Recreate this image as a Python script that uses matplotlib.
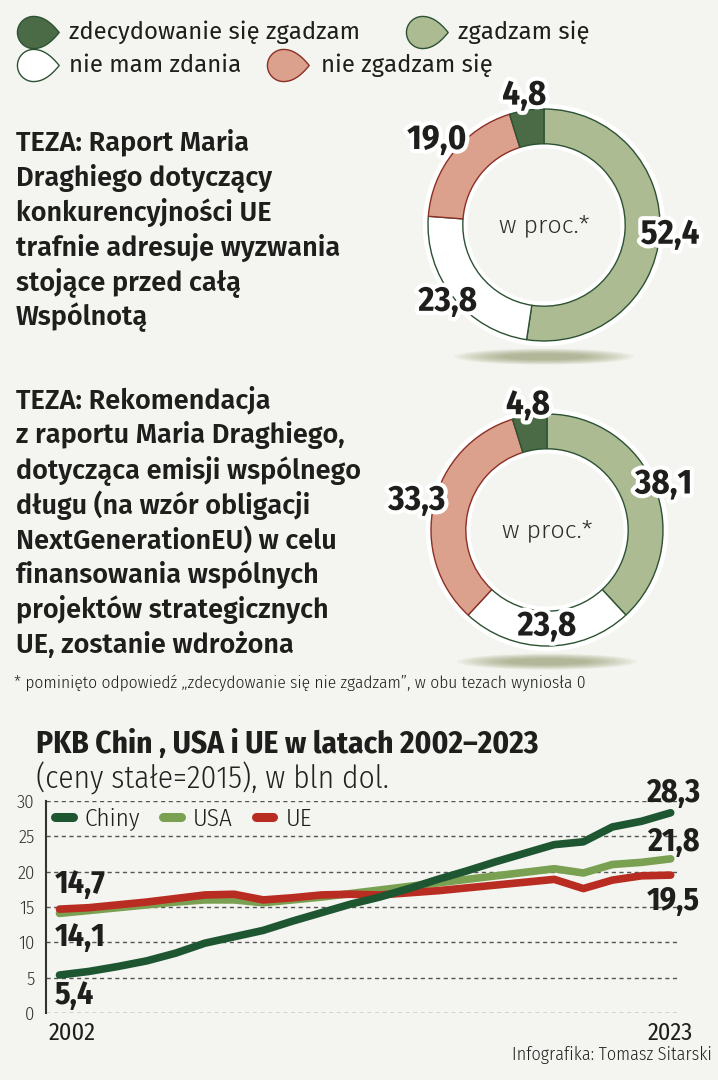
import numpy as np
import matplotlib.pyplot as plt
from matplotlib.path import Path
from matplotlib.patches import Ellipse, Wedge
from matplotlib.lines import Line2D
from matplotlib.transforms import ScaledTranslation
import matplotlib.patheffects as pe
from matplotlib import font_manager as fm

# fonts: take the first family that is installed
names = {f.name for f in fm.fontManager.ttflist}


def pick(*cands):
    for c in cands:
        if c in names:
            return c
    return 'DejaVu Sans'


SANS = pick('Fira Sans', 'Noto Sans', 'Open Sans')
SANS_LIGHT = pick('Fira Sans Light', 'Fira Sans', 'Noto Sans')
COND = pick('Fira Sans Condensed', 'Roboto Condensed', 'Liberation Sans Narrow', 'DejaVu Sans')
COND_LIGHT = pick('Fira Sans Condensed Light', 'Fira Sans Extra Condensed Light',
                  'Roboto Condensed Light', 'Fira Sans Condensed', 'Roboto Condensed', 'DejaVu Sans')
LIGHT = 300

# --- data: survey ---
answers = ['zdecydowanie się zgadzam', 'zgadzam się', 'nie mam zdania', 'nie zgadzam się']
answer_colors = ['#4b6b46', '#adbb93', '#ffffff', '#dba18d']
answer_edges = ['#2c5233', '#2c5233', '#2c5233', '#8c2f26']
teza1 = [4.8, 52.4, 23.8, 19.0]
teza2 = [4.8, 38.1, 23.8, 33.3]
teza1_text = ['TEZA: Raport Maria', 'Draghiego dotyczący', 'konkurencyjności UE',
              'trafnie adresuje wyzwania', 'stojące przed całą', 'Wspólnotą']
teza2_text = ['TEZA: Rekomendacja', 'z raportu Maria Draghiego,', 'dotycząca emisji wspólnego',
              'długu (na wzór obligacji', 'NextGenerationEU) w celu', 'finansowania wspólnych',
              'projektów strategicznych', 'UE, zostanie wdrożona']

# --- data: GDP ---
years = list(range(2002, 2024))
chiny = [5.4, 5.9, 6.6, 7.4, 8.5, 9.9, 10.8, 11.7, 13.0, 14.2, 15.4, 16.4, 17.6, 18.9,
         20.1, 21.4, 22.6, 23.8, 24.2, 26.3, 27.1, 28.3]
usa = [14.1, 14.5, 14.9, 15.3, 15.7, 16.0, 16.0, 15.6, 16.0, 16.4, 16.9, 17.4, 17.9, 18.4,
       18.9, 19.4, 19.9, 20.4, 19.8, 21.0, 21.3, 21.8]
ue = [14.7, 14.9, 15.3, 15.7, 16.2, 16.7, 16.8, 16.0, 16.3, 16.7, 16.8, 16.7, 17.0, 17.3,
      17.7, 18.1, 18.5, 18.9, 17.6, 18.8, 19.4, 19.5]
series_names = ['Chiny', 'USA', 'UE']
series_colors = ['#1f5632', '#7aa052', '#b92c22']

W, H = 718, 1080
BG = '#f4f5f0'
INK = '#1e1e1c'

fig = plt.figure(figsize=(W / 100, H / 100), dpi=100, facecolor=BG)


def fx(x):
    return x / W


def fy(y):
    return 1 - y / H


def comma(v):
    return f'{v:.1f}'.replace('.', ',')


# overlay in pixel coordinates for legend & texts
ov = fig.add_axes([0, 0, 1, 1])
ov.set_xlim(0, W)
ov.set_ylim(H, 0)
ov.axis('off')

# teardrop marker
drop = Path([(1.6, 0), (1.0, 0.75), (0.5, 1.0), (0, 1.0),
             (-0.55, 1.0), (-1.0, 0.55), (-1.0, 0),
             (-1.0, -0.55), (-0.55, -1.0), (0, -1.0),
             (0.5, -1.0), (1.0, -0.75), (1.6, 0), (1.6, 0)],
            [Path.MOVETO] + [Path.CURVE4] * 12 + [Path.CLOSEPOLY])

leg_pos = [(33, 32, 69), (422, 32, 458), (33, 65, 69), (283, 65, 321)]
for (mx, my, tx), name, c, e in zip(leg_pos, answers, answer_colors, answer_edges):
    ov.plot(mx, my, marker=drop, ms=37, mfc=c, mec=e, mew=1.0)
    ov.text(tx, my, name, fontsize=17.2, family=SANS, color=INK, va='center', ha='left')

# thesis texts
for i, line in enumerate(teza1_text):
    ov.text(16, 142 + i * 35.1, line, fontsize=19.5, family=SANS, weight='semibold',
            color=INK, va='center', ha='left')
for i, line in enumerate(teza2_text):
    ov.text(16, 400 + i * 35.0, line, fontsize=19.5, family=SANS, weight='semibold',
            color=INK, va='center', ha='left')

ov.text(14, 683, '* pominięto odpowiedź \u201ezdecydowanie się nie zgadzam\u201d, w obu tezach wyniosła 0',
        fontsize=12.5, family=COND_LIGHT, weight=LIGHT, color=INK, va='center', ha='left')


def donut(cx, cy, values, label_r):
    r = 116
    lim = 1.35
    ax = fig.add_axes([fx(cx - lim * r), fy(cy + lim * r), 2 * lim * r / W, 2 * lim * r / H])
    order = [1, 2, 3, 0]
    vals = [values[i] for i in order]
    wedges, _ = ax.pie(vals, colors=[answer_colors[i] for i in order], startangle=90,
                       counterclock=False, radius=1,
                       wedgeprops=dict(width=0.3, linewidth=1.0))
    for w, i in zip(wedges, order):
        w.set_edgecolor(answer_edges[i])
        w.set_zorder(3)
    ax.set_xlim(-lim, lim)
    ax.set_ylim(-lim, lim)
    ax.set_aspect('equal')
    ax.axis('off')
    # shadow
    for k in range(10):
        ax.add_patch(Ellipse((0, -1.135), 1.55 * (1 - k * 0.06), 0.14 * (1 - k * 0.07),
                             color='#7b8450', alpha=0.07, lw=0, zorder=1))
    # white halo
    ax.add_patch(Wedge((0, 0), 1.045, 0, 360, width=0.385, color='white', lw=0, zorder=2))
    for w, i, lr in zip(wedges, order, label_r):
        mid = np.deg2rad((w.theta1 + w.theta2) / 2)
        ax.text(lr * np.cos(mid), lr * np.sin(mid), comma(values[i]), fontsize=25,
                family=COND, weight='bold', color=INK, ha='center', va='center', zorder=5,
                path_effects=[pe.withStroke(linewidth=6, foreground='white')])
    ax.text(0, 0, 'w proc.*', fontsize=18, family=SANS_LIGHT, weight=LIGHT, color='#2e2e2e',
            ha='center', va='center', zorder=5)


donut(544, 225, teza1, [1.09, 1.06, 1.18, 1.13])
donut(547, 530, teza2, [1.08, 0.83, 1.15, 1.09])

# --- line chart ---
ov.text(36, 745, 'PKB Chin , USA i UE w latach 2002\u20132023', fontsize=22.5, family=COND,
        weight='bold', color=INK, va='center', ha='left')
ov.text(36, 778, '(ceny stałe=2015), w bln dol.', fontsize=22.6, family=COND_LIGHT,
        weight=LIGHT, color='#222222', va='center', ha='left')

ax = fig.add_axes([fx(45.8), fy(1013.3), (680 - 45.8) / W, (1013.3 - 800.7) / H])
ax.set_facecolor('none')
ax.plot(years, usa, color=series_colors[1], lw=5.5, solid_capstyle='round', zorder=3)
ax.plot(years, ue, color=series_colors[2], lw=5.5, solid_capstyle='round', zorder=4)
ax.plot(years, chiny, color=series_colors[0], lw=5.5, solid_capstyle='round', zorder=5)
ax.set_xlim(2001.53, 2023.32)
ax.set_ylim(0, 30)
ax.set_yticks(range(0, 31, 5))
ax.set_axisbelow(True)
ax.grid(axis='y', color='#555555', ls=(0, (3, 2.5)), lw=1)
for s in ['top', 'right', 'bottom']:
    ax.spines[s].set_visible(False)
ax.spines['left'].set_color('#333333')
ax.spines['left'].set_linewidth(1.5)
ax.tick_params(axis='y', length=0, pad=8, labelsize=13.5, labelcolor='#333333')
ax.set_xticks([years[0], years[-1]])
ax.set_xticklabels([str(years[0]), str(years[-1])])
ax.tick_params(axis='x', length=0, pad=6, labelsize=17.5, labelcolor=INK)
for lab in ax.get_yticklabels():
    lab.set_family(COND_LIGHT)
    lab.set_weight(LIGHT)
for lab in ax.get_xticklabels():
    lab.set_family(COND)
xl = ax.get_xticklabels()
xl[0].set_transform(xl[0].get_transform() + ScaledTranslation(0.13, 0, fig.dpi_scale_trans))

handles = [Line2D([], [], color=c, lw=6.5, solid_capstyle='round') for c in series_colors]
leg = ax.legend(handles, series_names, loc='center left',
                bbox_to_anchor=((55 - 45.8) / 634.2, (1013.3 - 819) / 212.6),
                ncol=3, frameon=False, borderpad=0, borderaxespad=0, handlelength=0.7,
                handletextpad=0.5, columnspacing=0.9,
                prop=dict(family=COND_LIGHT, weight=LIGHT, size=18))
for t in leg.get_texts():
    t.set_color(INK)


def end_label(x, y, v, dx, dy, ha):
    ax.annotate(comma(v), (x, y), xytext=(dx * 0.72, dy * 0.72), textcoords='offset points',
                ha=ha, va='baseline', fontsize=23, family=COND, weight='bold', color=INK,
                zorder=6, annotation_clip=False)


end_label(years[0], ue[0], ue[0], -4.5, 16, 'left')
end_label(years[0], usa[0], usa[0], -4.5, -33, 'left')
end_label(years[0], chiny[0], chiny[0], -4.5, -29, 'left')
end_label(years[-1], chiny[-1], chiny[-1], 29, 11, 'right')
end_label(years[-1], usa[-1], usa[-1], 29, 7.5, 'right')
end_label(years[-1], ue[-1], ue[-1], 29, -35, 'right')

ov.text(712, 1055, 'Infografika: Tomasz Sitarski', fontsize=13, family=COND_LIGHT,
        weight=LIGHT, color='#222222', va='center', ha='right')

fig.savefig('out.png', dpi=100, facecolor=BG)
